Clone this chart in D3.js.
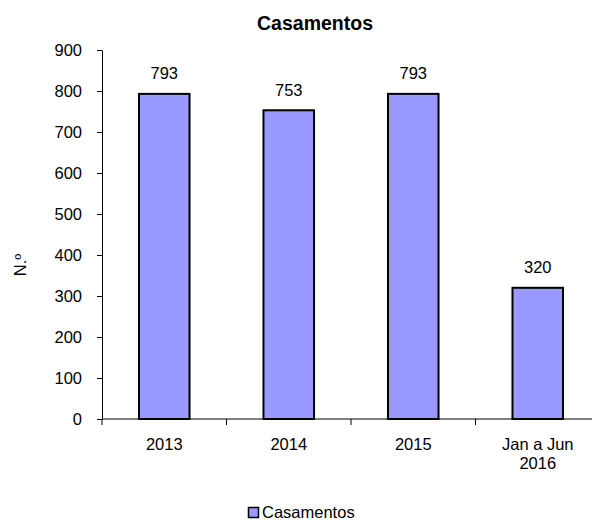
<!DOCTYPE html>
<html><head><meta charset="utf-8">
<script src="https://cdn.jsdelivr.net/npm/d3@7"></script>
<style>body{margin:0;background:#fff}svg{display:block}text{font-family:"Liberation Sans",Arial,sans-serif}</style>
</head><body>
<svg id="c" width="592" height="520"></svg>
<script>
const categories = ["2013", "2014", "2015", "Jan a Jun|2016"];
const values = [793, 753, 793, 320];
const yTicks = [0,100,200,300,400,500,600,700,800,900];
const seriesName = "Casamentos";
const title = "Casamentos";

const svg = d3.select("#c");
const x0 = 102, x1 = 600, yTop = 50, yBot = 419;
const x = d3.scaleBand().domain(categories).range([x0, x1]).paddingInner(0.594).paddingOuter(0.297);
const y = d3.scaleLinear().domain([0, 900]).range([yBot, yTop]);
const FS = 16.5;

svg.append("text").attr("x", 315).attr("y", 30).attr("text-anchor", "middle")
  .attr("font-weight", "bold").attr("font-size", 19.5).text(title);

// y axis
const ya = svg.append("g").attr("transform", `translate(${x0},0)`)
  .call(d3.axisLeft(y).tickValues(yTicks).tickSize(5).tickPadding(15).tickSizeOuter(0));
ya.select(".domain").attr("stroke", "#000");
ya.selectAll("line").attr("stroke", "#000");
ya.selectAll("text").attr("font-size", FS).attr("fill", "#000").attr("font-family", '"Liberation Sans",Arial,sans-serif');

// x axis
const xa = svg.append("g").attr("transform", `translate(0,${yBot})`);
xa.append("line").attr("x1", x0).attr("x2", x1).attr("y1", 0).attr("y2", 0).attr("stroke", "#000");
const bounds = categories.map((c, i) => x0 + i * x.step());
xa.selectAll("line.t").data(bounds).join("line").attr("class","t")
  .attr("x1", d => d).attr("x2", d => d).attr("y1", 0).attr("y2", 6).attr("stroke", "#000");
categories.forEach(c => {
  const lines = c.split("|");
  const cx = x(c) + x.bandwidth()/2;
  const t = xa.append("text").attr("text-anchor", "middle").attr("font-size", FS)
    .attr("x", cx).attr("y", 31);
  lines.forEach((l, j) => t.append("tspan").attr("x", cx).attr("dy", j ? 19 : 0).text(l));
});

// bars
svg.selectAll("rect.bar").data(values).join("rect").attr("class", "bar")
  .attr("x", (d, i) => x(categories[i])).attr("width", x.bandwidth())
  .attr("y", d => y(d)).attr("height", d => yBot - y(d))
  .attr("fill", "#9999FF").attr("stroke", "#000").attr("stroke-width", 2);

svg.selectAll("text.lbl").data(values).join("text").attr("class", "lbl")
  .attr("x", (d, i) => x(categories[i]) + x.bandwidth()/2).attr("y", d => y(d) - 14.5)
  .attr("text-anchor", "middle").attr("font-size", FS).text(d => d);

// y label
svg.append("text").attr("transform", "translate(26,265) rotate(-90)").attr("text-anchor", "middle")
  .attr("font-size", FS).text("N.º");

// legend
svg.append("rect").attr("x", 248.5).attr("y", 507.5).attr("width", 10).attr("height", 10)
  .attr("fill", "#9999FF").attr("stroke", "#000").attr("stroke-width", 1.5);
svg.append("text").attr("x", 262).attr("y", 518).attr("font-size", FS).text(seriesName);
</script>
</body></html>
